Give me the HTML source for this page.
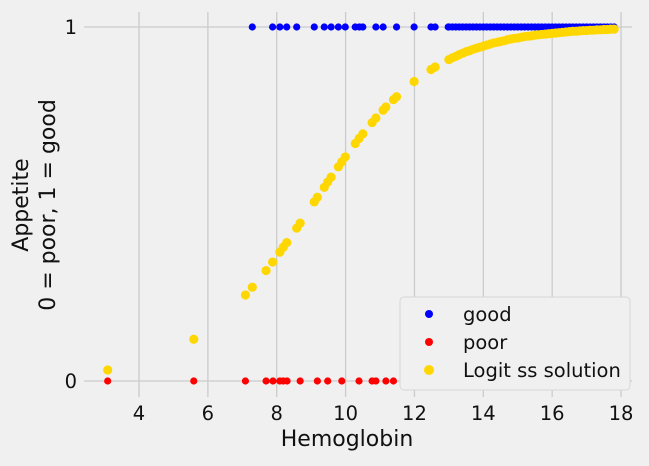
<!DOCTYPE html>
<html><head><meta charset="utf-8"><style>
body{margin:0;background:#f0f0f0;font-family:"Liberation Sans","DejaVu Sans",sans-serif}
svg text{font-family:"DejaVu Sans","Liberation Sans",sans-serif}
</style></head><body>
<svg id="c" width="649" height="461" viewBox="0 0 649 461">
<rect width="649" height="461" fill="#f0f0f0"/>
<g id="grid"></g><g id="marks"></g><g id="axes"></g>
<text x="347" y="446" text-anchor="middle" font-size="22" fill="#111">Hemoglobin</text>
<text transform="translate(28,205) rotate(-90)" text-anchor="middle" font-size="22" fill="#111">Appetite</text>
<text transform="translate(55,205) rotate(-90)" text-anchor="middle" font-size="22" fill="#111">0 = poor, 1 = good</text>
<g>
<rect x="400" y="297" width="230" height="93" rx="4" fill="#f0f0f0" stroke="#d6d6d6"/>
<circle cx="429" cy="314" r="4" fill="#0000ff"/>
<text x="463" y="321" font-size="19.5" fill="#111">good</text>
<circle cx="429" cy="342" r="4" fill="#ff0000"/>
<text x="463" y="349" font-size="19.5" fill="#111">poor</text>
<circle cx="429" cy="370" r="5" fill="#ffd700"/>
<text x="463" y="377" font-size="19.5" fill="#111">Logit ss solution</text>
</g>
</svg>
<script>
const xTicks=[4,6,8,10,12,14,16,18];
const yTicks=[0,1];
const goodX=[7.29,7.88,8.09,8.29,8.58,9.09,9.38,9.58,9.79,9.99,10.28,10.40,10.50,10.88,11.09,11.48,11.99,12.48,12.60,12.98,13.0,13.1,13.2,13.3,13.4,13.5,13.6,13.7,13.8,13.9,14.0,14.1,14.2,14.3,14.4,14.5,14.6,14.7,14.8,14.9,15.0,15.1,15.2,15.3,15.4,15.5,15.6,15.7,15.8,15.9,16.0,16.1,16.2,16.3,16.4,16.5,16.6,16.7,16.8,16.9,17.0,17.1,17.2,17.3,17.4,17.5,17.6,17.7,17.8];
const poorX=[3.09,5.59,7.09,7.69,7.89,8.09,8.19,8.30,8.68,9.18,9.48,9.89,10.39,10.77,10.88,11.17,11.39];
const fitX=[3.09,5.59,7.09,7.29,7.69,7.88,8.09,8.19,8.29,8.58,8.68,9.09,9.18,9.38,9.48,9.58,9.79,9.89,9.99,10.28,10.39,10.50,10.77,10.88,11.09,11.17,11.39,11.48,11.99,12.48,12.60,13.0,13.1,13.2,13.3,13.4,13.5,13.6,13.7,13.8,13.9,14.0,14.1,14.2,14.3,14.4,14.5,14.6,14.7,14.8,14.9,15.0,15.1,15.2,15.3,15.4,15.5,15.6,15.7,15.8,15.9,16.0,16.1,16.2,16.3,16.4,16.5,16.6,16.7,16.8,16.9,17.0,17.1,17.2,17.3,17.4,17.5,17.6,17.7,17.8];
const fitP=[0.031,0.118,0.243,0.265,0.312,0.336,0.364,0.378,0.391,0.432,0.446,0.506,0.519,0.547,0.562,0.576,0.605,0.619,0.633,0.671,0.685,0.698,0.730,0.743,0.765,0.774,0.795,0.803,0.846,0.880,0.887,0.908,0.913,0.917,0.922,0.926,0.930,0.933,0.937,0.940,0.943,0.946,0.949,0.952,0.955,0.957,0.959,0.961,0.964,0.966,0.968,0.969,0.971,0.973,0.974,0.975,0.977,0.978,0.979,0.980,0.981,0.982,0.983,0.984,0.985,0.986,0.987,0.988,0.988,0.989,0.990,0.990,0.991,0.991,0.992,0.992,0.993,0.993,0.994,0.994];
const NS='http://www.w3.org/2000/svg';
const X=v=>1.3+v*34.43, Y=v=>381-v*354;
function mk(t,a,p){const e=document.createElementNS(NS,t);for(const k in a)e.setAttribute(k,a[k]);p.appendChild(e);return e;}
const grid=document.getElementById('grid'),marks=document.getElementById('marks'),axes=document.getElementById('axes');
xTicks.forEach(t=>{
 const l=mk('line',{x1:X(t),x2:X(t),y1:12,y2:397,stroke:'#cbcbcb','stroke-width':1.3},grid);
 
 
 const tx=mk('text',{x:X(t),y:420,'text-anchor':'middle','font-size':19.5,fill:'#111'},axes);
 tx.textContent=t;
 
 
});
yTicks.forEach(t=>{
 const l=mk('line',{x1:84,x2:632,y1:Y(t),y2:Y(t),stroke:'#cbcbcb','stroke-width':1.3},grid);
 
 
 const tx=mk('text',{x:77,y:Y(t)+7,'text-anchor':'end','font-size':19.5,fill:'#111'},axes);
 tx.textContent=t;
 
 
});
goodX.forEach(v=>{
 const c=mk('circle',{cx:X(v),cy:Y(1),r:3.6,fill:'#0000ff'},marks);
 
 
});
poorX.forEach(v=>{
 const c=mk('circle',{cx:X(v),cy:Y(0),r:3.6,fill:'#ff0000'},marks);
 
 
});
fitX.forEach((v,i)=>{
 const c=mk('circle',{cx:X(v),cy:Y(fitP[i]),r:4.6,fill:'#ffd700'},marks);
 
 
});
</script>
</body></html>
